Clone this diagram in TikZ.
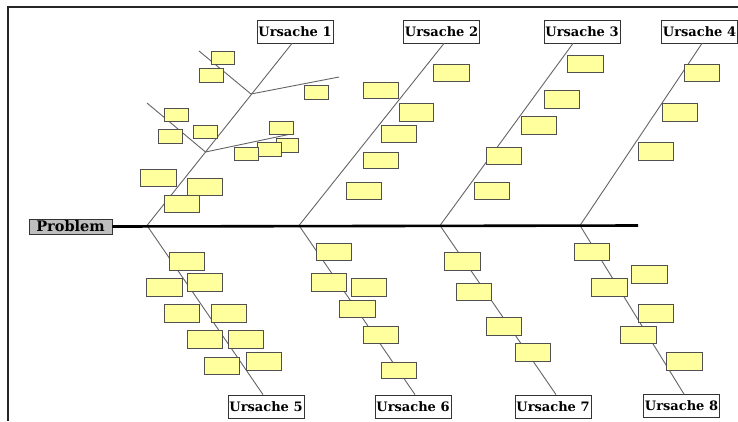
\documentclass[tikz,border=0pt]{standalone}
\usepackage{fontspec}
\setmainfont{DejaVu Serif}
\usetikzlibrary{calc}
\definecolor{ylw}{RGB}{255,255,158}
\definecolor{ybd}{RGB}{80,80,80}
\definecolor{bone}{RGB}{100,100,100}
\definecolor{pgray}{RGB}{190,190,190}
\tikzset{
  ybox/.style={draw=ybd,fill=ylw,line width=1pt,inner sep=0pt,outer sep=0pt},
  cause/.style={draw=black!80,fill=white,line width=0.8pt,inner sep=0pt,minimum width=76pt,minimum height=23pt,font=\bfseries\fontsize{13}{13}\selectfont},
  prob/.style={draw=black!80,fill=pgray,line width=0.8pt,inner sep=0pt,minimum width=83pt,minimum height=15pt,font=\bfseries\fontsize{14.5}{14.5}\selectfont},
  bonel/.style={draw=bone,line width=0.9pt},
  spine/.style={draw=black,line width=2.6pt},
  frame/.style={draw=black!85,line width=2.2pt}
}
\newcommand{\yb}[5]{\node[ybox,minimum width={(#4-#2)*1pt},minimum height={(#5-#3)*1pt}] (#1) at ({(#2+#4)/2},{(#3+#5)/2}) {};}
\begin{document}
\begin{tikzpicture}[x=1pt,y=-1pt]
\useasboundingbox (0,0) rectangle (738,421);
% frame
\coordinate (fa) at (8,421);
\coordinate (fb) at (8,7);
\coordinate (fc) at (738,7);
\draw[frame] (fa) -- (fb) -- (fc);
% cause labels
\node[cause] (u1) at (295,31.5) {Ursache 1};
\node[cause] (u2) at (441.5,31.5) {Ursache 2};
\node[cause] (u3) at (582,31.5) {Ursache 3};
\node[cause] (u4) at (699.5,31.5) {Ursache 4};
\node[cause] (u5) at (266,406.5) {Ursache 5};
\node[cause] (u6) at (413,406.5) {Ursache 6};
\node[cause] (u7) at (553,406.5) {Ursache 7};
\node[cause] (u8) at (681.5,406) {Ursache 8};
\node[prob] (pr) at (70.5,226.5) {Problem};
% junctions
\coordinate (j1) at (147,225.5);
\coordinate (j2) at (299,225.5);
\coordinate (j3) at (440,225.5);
\coordinate (j4) at (580,225.5);
\coordinate (se) at (638,225.5);
% bones
\draw[bonel] (j1) -- ([xshift=-3pt]u1.south);
\draw[bonel] (j2) -- ([xshift=2.5pt]u2.south);
\draw[bonel] (j3) -- ([xshift=-9pt]u3.south);
\draw[bonel] (j4) -- ([xshift=2.5pt]u4.south);
\draw[bonel] (j1) -- ([xshift=-3pt]u5.north);
\draw[bonel] (j2) -- ([xshift=2pt]u6.north);
\draw[bonel] (j3) -- ([xshift=3pt]u7.north);
\draw[bonel] (j4) -- ([xshift=2.5pt]u8.north);
% sub-bones
\coordinate (s1) at (251,94);
\coordinate (s1a) at (199,51);
\coordinate (s1b) at (339,77);
\coordinate (s2) at (205.5,152);
\coordinate (s2a) at (147,103);
\coordinate (s2b) at (291,134);
\draw[bonel] (s1) -- (s1a);
\draw[bonel] (s1) -- (s1b);
\draw[bonel] (s2) -- (s2a);
\draw[bonel] (s2) -- (s2b);
% spine
\draw[spine] (pr.east) -- (se);
% boxes bone 1
\yb{a1}{211}{51}{234}{64}
\yb{a2}{199}{68}{223}{82}
\yb{a3}{304}{85}{328}{99}
\yb{a4}{164}{108}{188}{121}
\yb{a5}{193}{125}{217}{138}
\yb{a6}{158}{129}{182}{143}
\yb{a7}{269}{121}{293}{134}
\yb{a8}{276}{138}{298}{152}
\yb{a9}{257}{142}{281}{156}
\yb{a10}{234}{147}{258}{160}
\yb{a11}{140}{169}{176}{186}
\yb{a12}{187}{178}{222}{195}
\yb{a13}{164}{195}{199}{212}
% bone 2
\yb{b1}{433}{64}{469}{81}
\yb{b2}{363}{82}{398}{98}
\yb{b3}{399}{103}{433}{121}
\yb{b4}{381}{125}{416}{142}
\yb{b5}{363}{152}{398}{168}
\yb{b6}{346}{182}{381}{199}
% bone 3
\yb{c1}{567}{55}{603}{72}
\yb{c2}{544}{90}{579}{108}
\yb{c3}{521}{116}{556}{134}
\yb{c4}{486}{147}{521}{164}
\yb{c5}{474}{182}{509}{199}
% bone 4
\yb{d1}{684}{64}{719}{81}
\yb{d2}{662}{103}{697}{121}
\yb{d3}{638}{142}{673}{160}
% bone 5
\yb{e1}{169}{252}{204}{270}
\yb{e2}{146}{278}{182}{296}
\yb{e3}{187}{273}{222}{291}
\yb{e4}{164}{304}{199}{322}
\yb{e5}{211}{304}{246}{322}
\yb{e6}{187}{330}{222}{348}
\yb{e7}{228}{330}{263}{348}
\yb{e8}{204}{357}{239}{374}
\yb{e9}{246}{352}{281}{370}
% bone 6
\yb{f1}{316}{243}{351}{260}
\yb{f2}{311}{273}{346}{291}
\yb{f3}{351}{278}{386}{296}
\yb{f4}{339}{300}{375}{317}
\yb{f5}{363}{326}{398}{343}
\yb{f6}{381}{362}{416}{378}
% bone 7
\yb{g1}{444}{252}{480}{270}
\yb{g2}{456}{283}{491}{300}
\yb{g3}{486}{317}{521}{335}
\yb{g4}{515}{343}{550}{361}
% bone 8
\yb{h1}{574}{243}{609}{260}
\yb{h2}{591}{278}{627}{296}
\yb{h3}{631}{265}{667}{283}
\yb{h4}{638}{304}{673}{322}
\yb{h5}{620}{326}{656}{343}
\yb{h6}{666}{352}{702}{370}
\end{tikzpicture}
\end{document}
